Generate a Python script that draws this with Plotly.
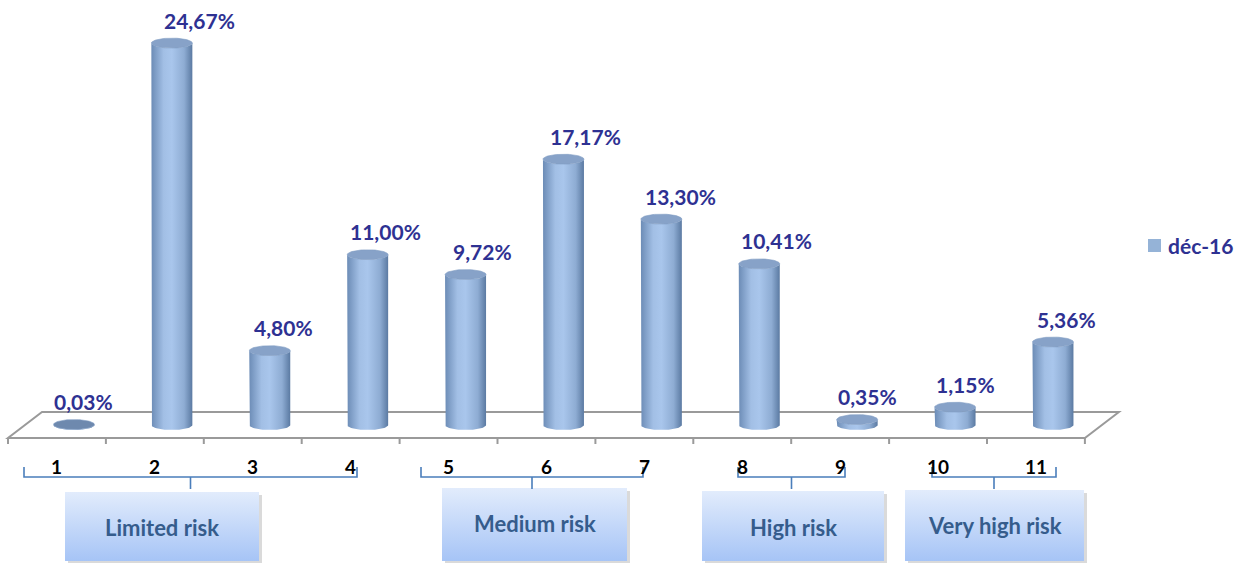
import numpy as np
import plotly.graph_objects as go

# ---------------- data ----------------
categories = [1, 2, 3, 4, 5, 6, 7, 8, 9, 10, 11]
values = [0.03, 24.67, 4.80, 11.00, 9.72, 17.17, 13.30, 10.41, 0.35, 1.15, 5.36]
value_labels = ["0,03%", "24,67%", "4,80%", "11,00%", "9,72%", "17,17%",
                "13,30%", "10,41%", "0,35%", "1,15%", "5,36%"]
series_name = "déc-16"
group_names = ["Limited risk", "Medium risk", "High risk", "Very high risk"]
group_first = [1, 5, 8, 10]
group_last = [4, 7, 9, 11]

# ---------------- style / layout constants ----------------
PX_X = 97.9          # pixels per category
PX_Y = 15.48         # pixels per percentage point
W, H = 1245, 563
X0_PX, BASE_PX = 8, 425

def ux(px):  # pixel -> x units (layout helper)
    return 0.5 + (px - X0_PX) / PX_X

def uy(py):  # pixel -> y units (layout helper)
    return (BASE_PX - py) / PX_Y

DEPTH_X = 34 / PX_X
DEPTH_Y = 26 / PX_Y
BAR_SHIFT = DEPTH_X / 2
HALF_W = 20.5 / PX_X
ELL_H = 5 / PX_Y

BRACKET_SPANS = [(ux(24), ux(357)), (ux(421), ux(643)), (ux(738), ux(845)), (ux(932), ux(1056))]
BOX_SPANS = [(ux(65), ux(259)), (ux(442), ux(627)), (ux(702), ux(884)), (ux(905), ux(1084))]
BOX_TOPS = [uy(492), uy(488), uy(491), uy(490)]
BOX_BOTTOM = uy(561)
BOX_TEXT_Y = [uy(527), uy(523), uy(527), uy(525)]

LABEL_COLOR = "#2e3192"
FONT = "Lato"

fig = go.Figure()

# floor
front_y = -DEPTH_Y / 2
back_y = DEPTH_Y / 2
x_lo, x_hi = categories[0] - 0.5, categories[-1] + 0.5
floor_path = (f"M {x_lo},{front_y} L {x_hi},{front_y} L {x_hi + DEPTH_X},{back_y} "
              f"L {x_lo + DEPTH_X},{back_y} Z")
shapes = [dict(type="path", path=floor_path, xref="x", yref="y",
               line=dict(color="#9a9a9a", width=2), fillcolor="white", layer="below")]
tick_len = 6 / PX_Y
for b in np.arange(x_lo, x_hi + 0.01, 1.0):
    shapes.append(dict(type="line", xref="x", yref="y", x0=b, x1=b,
                       y0=front_y, y1=front_y - tick_len,
                       line=dict(color="#9a9a9a", width=2), layer="below"))

# cylinders
body_scale = [[0, "#6c8cb6"], [0.3, "#a2bfe5"], [0.5, "#a9c6ec"], [0.8, "#8eacd3"], [1, "#5b7aa2"]]
t = np.linspace(0, np.pi, 40)
tt = np.linspace(0, 2 * np.pi, 80)
for c, v in zip(categories, values):
    cx = c + BAR_SHIFT
    xs = [cx - HALF_W]
    ys = [v]
    xs += list(cx - HALF_W * np.cos(t))
    ys += list(0 - ELL_H * np.sin(t))
    xs += list(cx + HALF_W * np.cos(t))
    ys += list(v - ELL_H * np.sin(t))
    fig.add_trace(go.Scatter(x=xs, y=ys, mode="lines", fill="toself",
                             line=dict(width=0, color="rgba(0,0,0,0)"),
                             fillgradient=dict(type="horizontal", colorscale=body_scale),
                             hoverinfo="skip", showlegend=False))
    fig.add_trace(go.Scatter(x=cx + HALF_W * np.cos(tt), y=v + ELL_H * np.sin(tt),
                             mode="lines", fill="toself",
                             line=dict(width=0.6, color="#7f9cc3"),
                             fillcolor="#87a2c8" if v > 0.2 else "#6e89ae",
                             hoverinfo="skip", showlegend=False))

annotations = []
for c, v, lab in zip(categories, values, value_labels):
    annotations.append(dict(x=c + BAR_SHIFT, y=v, xref="x", yref="y", text=lab,
                            showarrow=False, xanchor="center", yanchor="middle",
                            xshift=10 + 0.7 * v, yshift=23,
                            font=dict(family=FONT, size=21, color=LABEL_COLOR, weight="bold")))
    annotations.append(dict(x=c, y=uy(466), xref="x", yref="y", text=str(c),
                            showarrow=False, xanchor="center", yanchor="middle",
                            font=dict(family=FONT, size=19, color="black", weight="bold")))

# brackets
yl, yt, yb = uy(477), uy(467), uy(489)
for (L, R) in BRACKET_SPANS:
    M = (L + R) / 2
    shapes.append(dict(type="path", xref="x", yref="y",
                       path=f"M {L},{yt} L {L},{yl} L {R},{yl} L {R},{yt} M {M},{yl} L {M},{yb}",
                       line=dict(color="#4a7ebb", width=1.6)))

# group boxes
sx, sy = 3 / PX_X, 3 / PX_Y
for name, (L, R), top, ty in zip(group_names, BOX_SPANS, BOX_TOPS, BOX_TEXT_Y):
    fig.add_trace(go.Scatter(x=[L + sx, R + sx, R + sx, L + sx, L + sx],
                             y=[top - sy, top - sy, BOX_BOTTOM - sy, BOX_BOTTOM - sy, top - sy],
                             mode="lines", fill="toself", fillcolor="rgba(150,150,150,0.35)",
                             line=dict(width=0), hoverinfo="skip", showlegend=False))
    fig.add_trace(go.Scatter(x=[L, R, R, L, L], y=[top, top, BOX_BOTTOM, BOX_BOTTOM, top],
                             mode="lines", fill="toself", line=dict(width=0),
                             fillgradient=dict(type="vertical",
                                               colorscale=[[0, "#a6c4f6"], [1, "#e2ecfc"]]),
                             hoverinfo="skip", showlegend=False))
    annotations.append(dict(x=(L + R) / 2, y=ty, xref="x", yref="y", text=name,
                            showarrow=False, xanchor="center", yanchor="middle",
                            font=dict(family=FONT, size=22, color="#355c8c", weight="bold")))

# legend
shapes.append(dict(type="rect", xref="paper", yref="paper",
                   x0=1148 / W, x1=1161 / W, y0=1 - 252 / H, y1=1 - 239 / H,
                   fillcolor="#95b3d7", line=dict(width=0)))
annotations.append(dict(x=1166 / W, y=1 - 246 / H, xref="paper", yref="paper",
                        text=series_name, showarrow=False, xanchor="left", yanchor="middle",
                        font=dict(family=FONT, size=21, color=LABEL_COLOR, weight="bold")))

fig.update_layout(
    width=W, height=H, margin=dict(l=0, r=0, t=0, b=0),
    paper_bgcolor="white", plot_bgcolor="white",
    xaxis=dict(range=[ux(0), ux(W)], visible=False, fixedrange=True),
    yaxis=dict(range=[uy(H), uy(0)], visible=False, fixedrange=True),
    shapes=shapes, annotations=annotations, showlegend=False,
)

fig.write_html("out.html")
